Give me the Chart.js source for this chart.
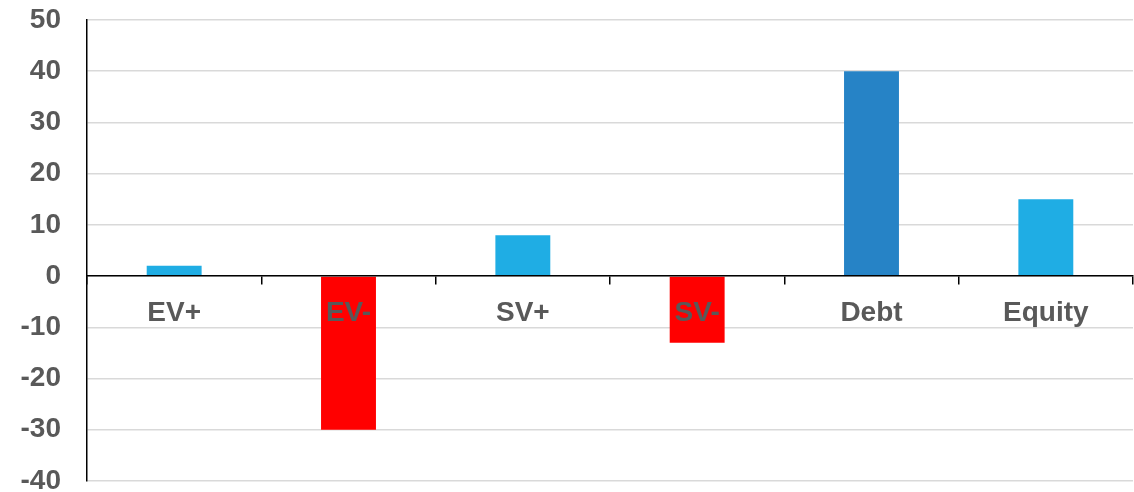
<!DOCTYPE html>
<html>
<head>
<meta charset="utf-8">
<title>EV / SV / Debt / Equity</title>
<script src="https://cdn.jsdelivr.net/npm/chart.js@4"></script>
<style>
    html, body { margin: 0; padding: 0; background: #ffffff; }
    #wrap { width: 1134px; height: 492px; position: relative; }
</style>
</head>
<body>
<div id="wrap"><canvas id="myChart"></canvas></div>
<script>
// Chart data
const categories = ['EV+', 'EV-', 'SV+', 'SV-', 'Debt', 'Equity'];
const values = [2, -30, 8, -13, 40, 15];
const barColors = ['#1FADE4', '#FF0000', '#1FADE4', '#FF0000', '#2683C6', '#1FADE4'];
const yMin = -40;
const yMax = 50;
const yStep = 10;

const labelFont = { family: '"Liberation Sans", Arial, sans-serif', size: 28, weight: 'bold' };
const textColor = '#595959';

const ctx = document.getElementById('myChart').getContext('2d');
const myChart = new Chart(ctx, {
    type: 'bar',
    data: {
        labels: categories,
        datasets: [{
            data: values,
            backgroundColor: barColors,
            borderWidth: 0,
            categoryPercentage: 1,
            barPercentage: 0.315
        }]
    },
    options: {
        responsive: true,
        maintainAspectRatio: false,
        animation: false,
        layout: {
            padding: { left: 0, right: 1, top: 20, bottom: 11 }
        },
        plugins: {
            legend: { display: false },
            tooltip: { enabled: false }
        },
        scales: {
            x: {
                // category axis sits on the zero line; labels and line go on top of the bars
                position: { y: 0 },
                border: { display: true, color: '#000000', width: 1.5, z: 1 },
                grid: {
                    offset: true,
                    drawOnChartArea: false,
                    drawTicks: true,
                    tickLength: 8,
                    color: '#000000',
                    lineWidth: 1.5,
                    z: 1
                },
                ticks: {
                    color: textColor,
                    font: labelFont,
                    padding: 12,
                    maxRotation: 0,
                    z: 1
                }
            },
            y: {
                min: yMin,
                max: yMax,
                border: { display: true, color: '#000000', width: 1.5 },
                grid: {
                    color: '#D9D9D9',
                    lineWidth: 1.5,
                    drawTicks: false
                },
                ticks: {
                    stepSize: yStep,
                    color: textColor,
                    font: labelFont,
                    padding: 26
                },
                afterFit: (scale) => {
                    scale.width = 87;
                    scale.paddingTop = 0;
                    scale.paddingBottom = 0;
                }
            }
        }
    }
});
</script>
</body>
</html>
